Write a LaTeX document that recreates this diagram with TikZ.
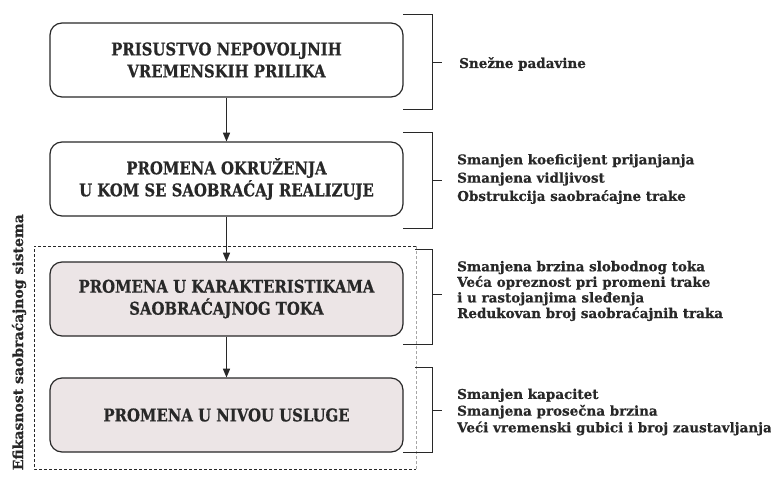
\documentclass[tikz,border=0pt]{standalone}
\usepackage{fontspec}
\setmainfont{DejaVu Serif}[BoldFeatures={FakeBold=0.6}]
\newfontfamily\kutijafont{DejaVu Serif}[FakeStretch=0.85, BoldFeatures={FakeBold=0.6}]
\usetikzlibrary{arrows}
\definecolor{T}{RGB}{40, 40, 40}
\definecolor{P}{RGB}{236, 229, 230}

\tikzset{
  kutija/.style={draw=T, line width=1.2pt, rounded corners=12pt, minimum width=353pt,
    minimum height=74pt, align=center, text=T,
    font=\kutijafont\bfseries\fontsize{17.5}{22}\selectfont},
  opis/.style={anchor=west, align=left, inner sep=0pt, text=T},
  zagrada/.style={draw=T, line width=1pt},
  strelica/.style={->, >=triangle 45, draw=T, line width=1pt},
}

\begin{document}
\begin{tikzpicture}[x=1pt, y=-1pt]
    \useasboundingbox (0,0) rectangle (771,482);

    %okvir sistema
    \draw[T, line width=1pt, dash pattern=on 3pt off 2pt] (416,246) -- (34,246) -- (34,469) -- (416,469);
    \draw[gray!70, line width=1pt, dash pattern=on 3pt off 2pt] (416,246) -- (416,469);
    \node[rotate=90, anchor=east, inner sep=0pt, text=T, font=\bfseries\fontsize{14}{16}\selectfont] (efik) at (19,214) {Efikasnost saobraćajnog sistema};

    %kutije
    \node[kutija, fill=white] (k1) at (226.5,60) {PRISUSTVO NEPOVOLJNIH\\VREMENSKIH PRILIKA};
    \node[kutija, fill=white] (k2) at (226.5,179) {PROMENA OKRUŽENJA\\U KOM SE SAOBRAĆAJ REALIZUJE};
    \node[kutija, fill=P] (k3) at (226.5,299) {PROMENA U KARAKTERISTIKAMA\\SAOBRAĆAJNOG TOKA};
    \node[kutija, fill=P] (k4) at (226.5,415) {PROMENA U NIVOU USLUGE};

    %strelice
    \draw[strelica] (k1) -- (k2);
    \draw[strelica] (k2) -- (k3);
    \draw[strelica] (k3) -- (k4);

    %zagrade
    \draw[zagrada] (403,14) -- (432,14) -- (432,109) -- (403,109);
    \draw[zagrada] (432,62) -- (442,62);
    \draw[zagrada] (403,132) -- (432,132) -- (432,228) -- (403,228);
    \draw[zagrada] (432,180) -- (442,180);
    \draw[zagrada] (415,249) -- (432,249) -- (432,344) -- (403,344);
    \draw[zagrada] (432,294) -- (442,294);
    \draw[zagrada] (415,367) -- (432,367) -- (432,452) -- (403,452);
    \draw[zagrada] (432,410) -- (442,410);

    %opisi
    \node[opis, font=\bfseries\fontsize{13.5}{18.3}\selectfont] (s1) at (459,64) {Snežne padavine};
    \node[opis, font=\bfseries\fontsize{13.5}{18.3}\selectfont] (s2) at (457,179)
      {Smanjen koeficijent prijanjanja\\Smanjena vidljivost\\Obstrukcija saobraćajne trake};
    \node[opis, font=\bfseries\fontsize{13.5}{15.6}\selectfont] (s3) at (457,291)
      {Smanjena brzina slobodnog toka\\Veća opreznost pri promeni trake\\i u rastojanjima sleđenja\\Redukovan broj saobraćajnih traka};
    \node[opis, font=\bfseries\fontsize{13.5}{16.7}\selectfont] (s4) at (457,412)
      {Smanjen kapacitet\\Smanjena prosečna brzina\\Veći vremenski gubici i broj zaustavljanja};
\end{tikzpicture}
\end{document}
